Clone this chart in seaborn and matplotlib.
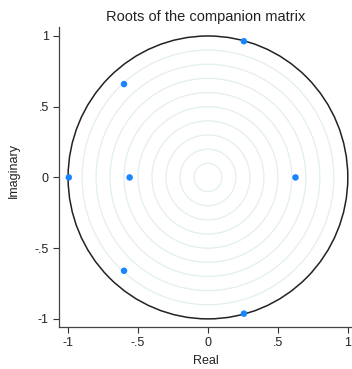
import matplotlib
matplotlib.use("Agg")
import matplotlib.pyplot as plt
from matplotlib.patches import Circle
import seaborn as sns
import pandas as pd

real = [0.257, -0.60, -0.995, -0.56, 0.626, -0.60, 0.257]
imag = [0.963, 0.66, 0.0, 0.0, 0.0, -0.66, -0.963]
grid_radii = [0.1, 0.2, 0.3, 0.4, 0.5, 0.6, 0.7, 0.8, 0.9]
tick_vals = [-1, -0.5, 0, 0.5, 1]
tick_labels = ["-1", "-.5", "0", ".5", "1"]

sns.set_style("ticks")
plt.rcParams["font.family"] = ["Liberation Sans", "DejaVu Sans"]

fig = plt.figure(figsize=(3.52, 3.69), dpi=100)
ax = fig.add_axes([0.168, 0.114, 0.832, 0.813])

for r in grid_radii:
    ax.add_patch(Circle((0, 0), r, fill=False, ec="#e3eef0", lw=0.9, zorder=1))
ax.add_patch(Circle((0, 0), 1.0, fill=False, ec="#222222", lw=1.1, zorder=2))

df = pd.DataFrame({"Real": real, "Imaginary": imag})
sns.scatterplot(data=df, x="Real", y="Imaginary", ax=ax, color="#1a85ff",
                s=22, edgecolor="none", zorder=3)

ax.set_xlim(-1.064, 1.03)
ax.set_ylim(-1.057, 1.064)
ax.set_xticks(tick_vals)
ax.set_xticklabels(tick_labels)
ax.set_yticks(tick_vals)
ax.set_yticklabels(tick_labels)
ax.tick_params(labelsize=9, length=4, width=0.8, colors="#333333", labelcolor="#222222")
for s in ["left", "bottom"]:
    ax.spines[s].set_color("#444444")
    ax.spines[s].set_linewidth(0.9)
sns.despine(ax=ax)
ax.set_xlabel("Real", fontsize=9, color="#222222")
ax.set_ylabel("Imaginary", fontsize=9, color="#222222", labelpad=6)
ax.yaxis.set_label_coords(-0.135, 0.52)
ax.set_title("Roots of the companion matrix", fontsize=10.5, color="#222222", pad=4)

fig.savefig("out.png", dpi=100)
